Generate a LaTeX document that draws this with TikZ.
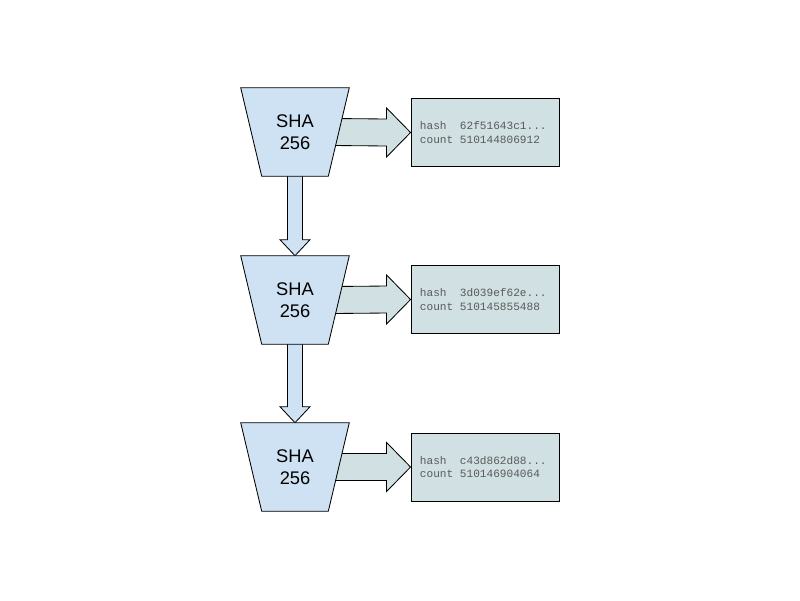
\documentclass[tikz,border=0pt]{standalone}
\usepackage{fontspec}
\setmainfont{Liberation Sans}
\newfontfamily\hashfont{Liberation Mono}
\usepackage{xcolor}
\usetikzlibrary{calc,backgrounds}
\definecolor{shablue}{HTML}{CFE2F3}
\definecolor{outgray}{HTML}{D0E0E3}
\definecolor{hashtext}{HTML}{5A5A5A}
\tikzset{
	shabox/.style={
			minimum width=2.7cm, minimum height=2.2cm, inner sep=0pt,
			align=center, font=\fontsize{13}{15.6}\selectfont
		},
	shaborder/.style={draw, line width=0.6pt, fill=shablue},
	outbox/.style={
			draw, line width=0.6pt, fill=outgray,
			minimum width=3.7cm, minimum height=1.7cm,
			text width=3.25cm, inner xsep=0pt, align=left,
			text=hashtext, font=\hashfont\fontsize{7.9}{9.3}\selectfont
		},
	rightarr/.style={draw, line width=0.6pt, fill=outgray},
	downarr/.style={draw, line width=0.6pt, fill=shablue}
}

\begin{document}
\begin{tikzpicture}[x=0.025cm,y=-0.025cm]
	\useasboundingbox (0,0) rectangle (800,600);

	% hash rounds
	\node[shabox] (sha1) at (295,132) {SHA\\256};
	\node[shabox] (sha2) at (295,300) {SHA\\256};
	\node[shabox] (sha3) at (295,467) {SHA\\256};

	% results
	\node[outbox] (out1) at (485,132.5) {hash\hspace{1.2em}62f51643c1...\\count\hspace{0.6em}510144806912};
	\node[outbox] (out2) at (485,299.5) {hash\hspace{1.2em}3d039ef62e...\\count\hspace{0.6em}510145855488};
	\node[outbox] (out3) at (485,467) {hash\hspace{1.2em}c43d862d88...\\count\hspace{0.6em}510146904064};

	\begin{scope}[on background layer]
		% block arrows to the results
		\draw[rightarr] ($(sha1.center)+(39,-13.5)$) -- ($(out1.west)+(-24,-13.5)$) -- ($(out1.west)+(-24,-24.5)$) -- (out1.west)
			-- ($(out1.west)+(-24,24.5)$) -- ($(out1.west)+(-24,13.5)$) -- ($(sha1.center)+(39,13.5)$) -- cycle;
		\draw[rightarr] ($(sha2.center)+(39,-13.5)$) -- ($(out2.west)+(-24,-13.5)$) -- ($(out2.west)+(-24,-24.5)$) -- (out2.west)
			-- ($(out2.west)+(-24,24.5)$) -- ($(out2.west)+(-24,13.5)$) -- ($(sha2.center)+(39,13.5)$) -- cycle;
		\draw[rightarr] ($(sha3.center)+(39,-13.5)$) -- ($(out3.west)+(-24,-13.5)$) -- ($(out3.west)+(-24,-24.5)$) -- (out3.west)
			-- ($(out3.west)+(-24,24.5)$) -- ($(out3.west)+(-24,13.5)$) -- ($(sha3.center)+(39,13.5)$) -- cycle;

		% block arrows between rounds
		\draw[downarr] ($(sha1.south)+(-7.5,-2)$) -- ($(sha2.north)+(-7.5,-16)$) -- ($(sha2.north)+(-15,-16)$) -- (sha2.north)
			-- ($(sha2.north)+(15,-16)$) -- ($(sha2.north)+(7.5,-16)$) -- ($(sha1.south)+(7.5,-2)$) -- cycle;
		\draw[downarr] ($(sha2.south)+(-7.5,-2)$) -- ($(sha3.north)+(-7.5,-16)$) -- ($(sha3.north)+(-15,-16)$) -- (sha3.north)
			-- ($(sha3.north)+(15,-16)$) -- ($(sha3.north)+(7.5,-16)$) -- ($(sha2.south)+(7.5,-2)$) -- cycle;

		% funnel outlines of the rounds
		\draw[shaborder] (sha1.north west) -- (sha1.north east) -- ($(sha1.south east)+(-21,0)$) -- ($(sha1.south west)+(21,0)$) -- cycle;
		\draw[shaborder] (sha2.north west) -- (sha2.north east) -- ($(sha2.south east)+(-21,0)$) -- ($(sha2.south west)+(21,0)$) -- cycle;
		\draw[shaborder] (sha3.north west) -- (sha3.north east) -- ($(sha3.south east)+(-21,0)$) -- ($(sha3.south west)+(21,0)$) -- cycle;
	\end{scope}
\end{tikzpicture}
\end{document}
